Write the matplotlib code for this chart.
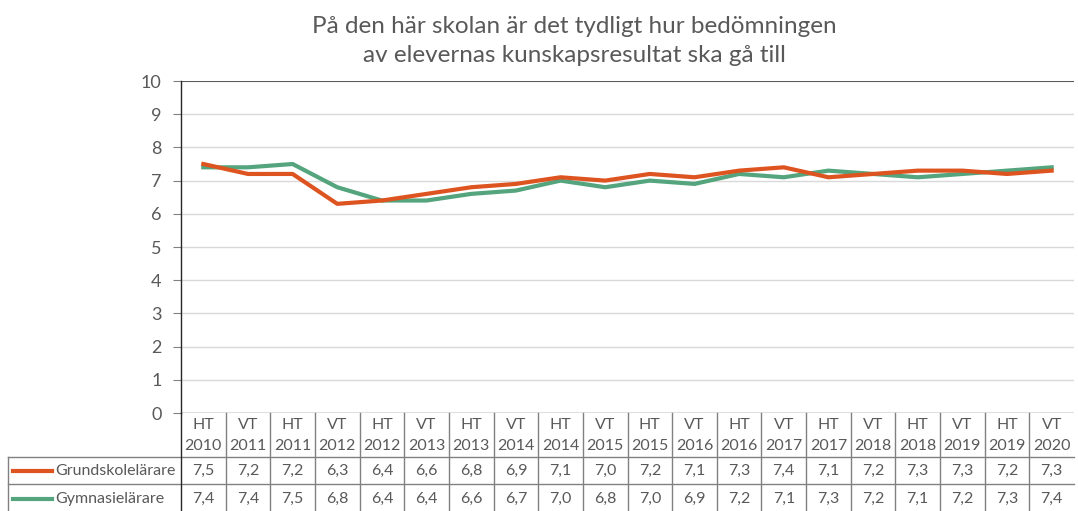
import matplotlib
matplotlib.use("Agg")
import matplotlib.pyplot as plt
from matplotlib.lines import Line2D

categories_term = ["HT", "VT", "HT", "VT", "HT", "VT", "HT", "VT", "HT", "VT",
                   "HT", "VT", "HT", "VT", "HT", "VT", "HT", "VT", "HT", "VT"]
categories_year = ["2010", "2011", "2011", "2012", "2012", "2013", "2013", "2014", "2014", "2015",
                   "2015", "2016", "2016", "2017", "2017", "2018", "2018", "2019", "2019", "2020"]
grundskola = [7.5, 7.2, 7.2, 6.3, 6.4, 6.6, 6.8, 6.9, 7.1, 7.0,
              7.2, 7.1, 7.3, 7.4, 7.1, 7.2, 7.3, 7.3, 7.2, 7.3]
gymnasie = [7.4, 7.4, 7.5, 6.8, 6.4, 6.4, 6.6, 6.7, 7.0, 6.8,
            7.0, 6.9, 7.2, 7.1, 7.3, 7.2, 7.1, 7.2, 7.3, 7.4]
series_names = ["Grundskolelärare", "Gymnasielärare"]
title = "På den här skolan är det tydligt hur bedömningen\nav elevernas kunskapsresultat ska gå till"
yticks = list(range(0, 11))

plt.rcParams['font.family'] = ['Lato', 'DejaVu Sans']
W, H = 1078, 511
fig = plt.figure(figsize=(W / 100, H / 100), dpi=100)

TXT = "#595959"
ORANGE = "#DE5420"
GREEN = "#54A47D"
GRID = "#D9D9D9"
DARK = "#595959"
TBL = "#808080"

L, R, T, B = 181, 1074, 81, 413
ax = fig.add_axes([L / W, 1 - B / H, (R - L) / W, (B - T) / H])
n = len(categories_term)
x = list(range(n))
ax.set_xlim(-0.5, n - 0.5)
ax.set_ylim(0, 10)
ax.set_yticks(yticks)
ax.set_yticklabels([str(v) for v in yticks], color=TXT, fontsize=13)
ax.tick_params(axis='y', length=6, color=TBL, pad=8)
ax.set_xticks([])
for s in ["top", "right", "bottom"]:
    ax.spines[s].set_visible(False)
ax.spines["left"].set_color("#262626")
ax.spines["left"].set_linewidth(1.0)
for v in yticks[1:-1]:
    ax.axhline(v, color=GRID, lw=1.0, zorder=0)
ax.axhline(10, color=DARK, lw=1.5, zorder=1)
ax.axhline(0, color=DARK, lw=1.0, zorder=1)

ax.plot(x, grundskola, color=ORANGE, lw=3, zorder=3, solid_joinstyle='round')
ax.plot(x, gymnasie, color=GREEN, lw=3, zorder=2, solid_joinstyle='round')

fig.text(574 / W, 1 - 41 / H, title, ha='center', va='center', fontsize=17.5,
         color=TXT, linespacing=1.45)

# Data table drawn in pixel coordinates
def fx(px):
    return px / W

def fy(py):
    return 1 - py / H

def hline(y, x0, x1, color=TBL, lw=1.0):
    fig.add_artist(Line2D([fx(x0), fx(x1)], [fy(y), fy(y)], color=color, lw=lw))

def vline(xp, y0, y1, color=TBL, lw=1.0):
    fig.add_artist(Line2D([fx(xp), fx(xp)], [fy(y0), fy(y1)], color=color, lw=lw))

colw = (R - L) / n
row1_top, row1_bot, row2_bot = 457, 484, 511
hline(row1_top, 8, R)
hline(row1_bot, 8, R)
vline(8, row1_top, 512)
vline(L, B, 512, color="#262626")
for i in range(1, n):
    vline(L + i * colw, B, 512)

fs = 11.5
for i in range(n):
    cx = L + (i + 0.5) * colw
    fig.text(fx(cx), fy(425), categories_term[i], ha='center', va='center', fontsize=fs, color=TXT)
    fig.text(fx(cx), fy(446), categories_year[i], ha='center', va='center', fontsize=fs, color=TXT)
    fig.text(fx(cx), fy(471), f"{grundskola[i]:.1f}".replace('.', ','), ha='center', va='center',
             fontsize=fs, color=TXT)
    fig.text(fx(cx), fy(499), f"{gymnasie[i]:.1f}".replace('.', ','), ha='center', va='center',
             fontsize=fs, color=TXT)

for name, col, yc in [(series_names[0], ORANGE, 471), (series_names[1], GREEN, 499)]:
    fig.add_artist(Line2D([fx(13), fx(52)], [fy(yc), fy(yc)], color=col, lw=3))
    fig.text(fx(55), fy(yc), name, ha='left', va='center', fontsize=fs, color=TXT)

fig.savefig("out.png", dpi=100)
